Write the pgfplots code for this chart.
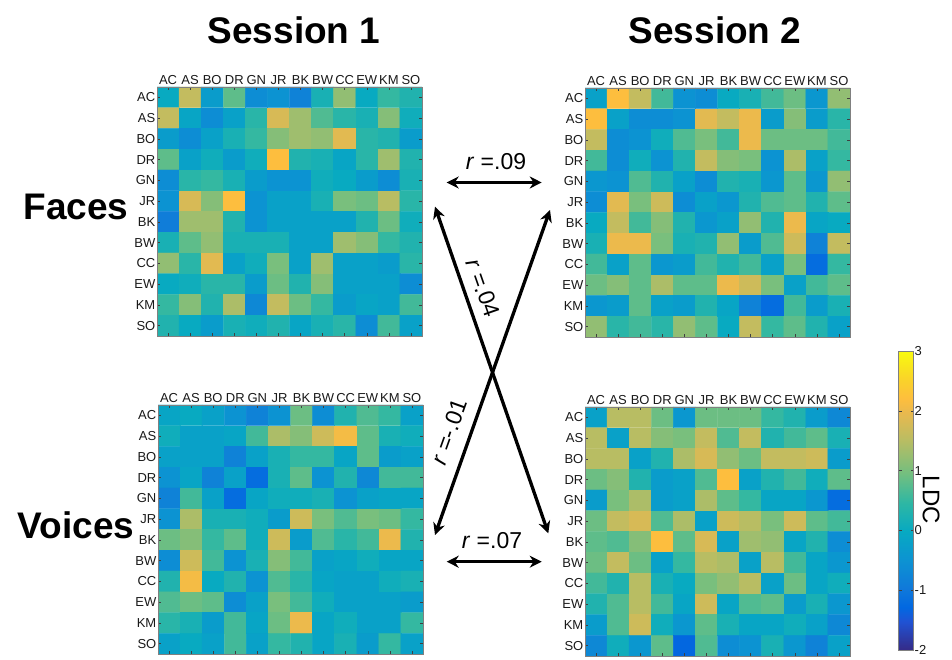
\documentclass[border=0pt]{standalone}
\usepackage{pgfplots}
\pgfplotsset{compat=1.18}
\usepackage{fontspec}
\setmainfont{Liberation Sans}
\usetikzlibrary{arrows.meta}
\pgfplotsset{colormap={parula}{
 rgb(0pt)=(0.2081,0.1663,0.5292)
 rgb(6pt)=(0.1253,0.3242,0.8303)
 rgb(9pt)=(0.0060,0.4086,0.8828)
 rgb(13pt)=(0.0629,0.4737,0.8554)
 rgb(19pt)=(0.0488,0.5772,0.8228)
 rgb(25pt)=(0.0267,0.6642,0.7607)
 rgb(31pt)=(0.1801,0.7177,0.6424)
 rgb(37pt)=(0.4420,0.7481,0.5033)
 rgb(44pt)=(0.7184,0.7411,0.3905)
 rgb(50pt)=(0.9139,0.7258,0.3063)
 rgb(53pt)=(0.9938,0.7455,0.2403)
 rgb(57pt)=(0.9789,0.8271,0.1633)
 rgb(63pt)=(0.9763,0.9831,0.0538)
}}
\pgfplotsset{rdm/.style={
 scale only axis, width=265pt, height=249pt,
 xmin=-0.5, xmax=11.5, ymin=-0.5, ymax=11.5, y dir=reverse,
 enlargelimits=false, axis on top,
 xtick={0,...,11}, ytick={0,...,11},
 xticklabels={AC,AS,BO,DR,GN,JR,BK,BW,CC,EW,KM,SO},
 yticklabels={AC,AS,BO,DR,GN,JR,BK,BW,CC,EW,KM,SO},
 xticklabel pos=right, xtick pos=both, ytick pos=both, yticklabel pos=left,
 tick align=inside, major tick length=3pt,
 tick style={black!75, line width=0.5pt},
 axis line style={black!50, line width=0.6pt},
 tick label style={font=\fontsize{13}{14}\selectfont, text=black!90},
 xticklabel style={inner sep=1pt, yshift=1pt},
 yticklabel style={inner sep=1.5pt},
 colormap name=parula, point meta min=-2, point meta max=3,
}}
\begin{document}
\begin{tikzpicture}
\useasboundingbox (0,0) rectangle (952pt,660pt);
% Session 1 Faces
\begin{axis}[rdm, at={(157pt,573pt)}, anchor=north west]
\addplot[matrix plot*, mesh/cols=12, point meta=explicit] coordinates {
(0,0)[0] (1,0)[1.6] (2,0)[-0.3] (3,0)[0.8] (4,0)[-0.6] (5,0)[-0.5] (6,0)[-0.8] (7,0)[0.2] (8,0)[1.2] (9,0)[0] (10,0)[0.5] (11,0)[0.3]
(0,1)[1.6] (1,1)[-0.1] (2,1)[-0.6] (3,1)[-0.2] (4,1)[0.4] (5,1)[1.8] (6,1)[1.3] (7,1)[0.7] (8,1)[0.4] (9,1)[0.2] (10,1)[1.1] (11,1)[0.1]
(0,2)[-0.3] (1,2)[-0.6] (2,2)[-0.2] (3,2)[0.2] (4,2)[0.5] (5,2)[1.1] (6,2)[1.3] (7,2)[1.2] (8,2)[1.9] (9,2)[0.4] (10,2)[0.3] (11,2)[-0.3]
(0,3)[0.8] (1,3)[-0.2] (2,3)[0.1] (3,3)[-0.3] (4,3)[0.1] (5,3)[2.2] (6,3)[0.3] (7,3)[0.2] (8,3)[-0.1] (9,3)[0.4] (10,3)[1.3] (11,3)[0.3]
(0,4)[-0.6] (1,4)[0.4] (2,4)[0.5] (3,4)[0.2] (4,4)[-0.3] (5,4)[-0.5] (6,4)[-0.5] (7,4)[0.1] (8,4)[0] (9,4)[-0.3] (10,4)[-0.6] (11,4)[0.2]
(0,5)[-0.5] (1,5)[1.8] (2,5)[1.1] (3,5)[2.2] (4,5)[-0.5] (5,5)[-0.2] (6,5)[-0.2] (7,5)[0.2] (8,5)[1.0] (9,5)[0.9] (10,5)[1.5] (11,5)[0.4]
(0,6)[-0.9] (1,6)[1.3] (2,6)[1.3] (3,6)[0.3] (4,6)[-0.5] (5,6)[-0.2] (6,6)[-0.2] (7,6)[-0.2] (8,6)[-0.2] (9,6)[0.3] (10,6)[0.9] (11,6)[0.1]
(0,7)[0.2] (1,7)[0.8] (2,7)[1.2] (3,7)[0.2] (4,7)[0.2] (5,7)[0.2] (6,7)[-0.2] (7,7)[-0.2] (8,7)[1.3] (9,7)[1.1] (10,7)[0.5] (11,7)[0.3]
(0,8)[1.2] (1,8)[0.4] (2,8)[1.9] (3,8)[-0.2] (4,8)[0.1] (5,8)[1.0] (6,8)[-0.2] (7,8)[1.3] (8,8)[-0.2] (9,8)[-0.2] (10,8)[-0.3] (11,8)[0.4]
(0,9)[0] (1,9)[0.1] (2,9)[0.4] (3,9)[0.4] (4,9)[-0.3] (5,9)[0.9] (6,9)[0.3] (7,9)[1.1] (8,9)[-0.2] (9,9)[-0.2] (10,9)[-0.2] (11,9)[-0.6]
(0,10)[0.5] (1,10)[1.1] (2,10)[0.3] (3,10)[1.4] (4,10)[-0.7] (5,10)[1.6] (6,10)[0.9] (7,10)[0.5] (8,10)[-0.3] (9,10)[-0.1] (10,10)[-0.2] (11,10)[0.6]
(0,11)[0.3] (1,11)[0] (2,11)[-0.3] (3,11)[0.2] (4,11)[0.1] (5,11)[0.3] (6,11)[-0.1] (7,11)[0.2] (8,11)[0.4] (9,11)[-0.6] (10,11)[0.6] (11,11)[-0.2]
};
\end{axis}
% Session 2 Faces
\begin{axis}[rdm, at={(585pt,572pt)}, anchor=north west]
\addplot[matrix plot*, mesh/cols=12, point meta=explicit] coordinates {
(0,0)[-0.2] (1,0)[2.2] (2,0)[1.6] (3,0)[0.6] (4,0)[-0.5] (5,0)[-0.6] (6,0)[0] (7,0)[0.2] (8,0)[0.6] (9,0)[0.9] (10,0)[-0.4] (11,0)[1.2]
(0,1)[2.2] (1,1)[-0.2] (2,1)[-0.6] (3,1)[-0.6] (4,1)[-0.5] (5,1)[1.9] (6,1)[1.6] (7,1)[2.0] (8,1)[-0.3] (9,1)[1.1] (10,1)[-0.3] (11,1)[0.4]
(0,2)[1.6] (1,2)[-0.6] (2,2)[-0.5] (3,2)[0.1] (4,2)[0.7] (5,2)[1.0] (6,2)[0.6] (7,2)[2.0] (8,2)[0.9] (9,2)[0.9] (10,2)[0.9] (11,2)[0.6]
(0,3)[0.6] (1,3)[-0.6] (2,3)[0.1] (3,3)[-0.5] (4,3)[0.3] (5,3)[1.6] (6,3)[1.1] (7,3)[1.0] (8,3)[-0.5] (9,3)[1.4] (10,3)[-0.2] (11,3)[0.5]
(0,4)[-0.4] (1,4)[-0.5] (2,4)[0.7] (3,4)[0.3] (4,4)[-0.2] (5,4)[-0.6] (6,4)[0.3] (7,4)[0.2] (8,4)[-0.4] (9,4)[0.8] (10,4)[-0.4] (11,4)[1.2]
(0,5)[-0.6] (1,5)[1.9] (2,5)[1.0] (3,5)[1.7] (4,5)[-0.6] (5,5)[-0.2] (6,5)[-0.4] (7,5)[0.3] (8,5)[0.7] (9,5)[0.8] (10,5)[0.3] (11,5)[0.8]
(0,6)[0] (1,6)[1.6] (2,6)[0.6] (3,6)[1.1] (4,6)[0.3] (5,6)[-0.4] (6,6)[-0.2] (7,6)[1.2] (8,6)[0.3] (9,6)[2.0] (10,6)[-0.1] (11,6)[0]
(0,7)[0.2] (1,7)[2.0] (2,7)[2.0] (3,7)[1.0] (4,7)[0.2] (5,7)[0.3] (6,7)[1.2] (7,7)[-0.3] (8,7)[0.7] (9,7)[1.7] (10,7)[-0.8] (11,7)[1.6]
(0,8)[0.6] (1,8)[-0.2] (2,8)[0.8] (3,8)[-0.4] (4,8)[-0.3] (5,8)[0.6] (6,8)[0.3] (7,8)[0.6] (8,8)[-0.2] (9,8)[1.0] (10,8)[-1.2] (11,8)[0.5]
(0,9)[0.9] (1,9)[1.1] (2,9)[0.8] (3,9)[1.4] (4,9)[0.8] (5,9)[0.8] (6,9)[2.0] (7,9)[1.7] (8,9)[1.0] (9,9)[-0.2] (10,9)[0.6] (11,9)[0.8]
(0,10)[-0.4] (1,10)[-0.3] (2,10)[0.8] (3,10)[-0.2] (4,10)[-0.3] (5,10)[0.3] (6,10)[-0.1] (7,10)[-0.8] (8,10)[-1.2] (9,10)[0.6] (10,10)[-0.3] (11,10)[0.2]
(0,11)[1.2] (1,11)[0.4] (2,11)[0.6] (3,11)[0.4] (4,11)[1.2] (5,11)[0.8] (6,11)[0] (7,11)[1.6] (8,11)[0.5] (9,11)[0.8] (10,11)[0.3] (11,11)[-0.2]
};
\end{axis}
% Session 1 Voices
\begin{axis}[rdm, at={(158pt,255pt)}, anchor=north west]
\addplot[matrix plot*, mesh/cols=12, point meta=explicit] coordinates {
(0,0)[-0.1] (1,0)[0] (2,0)[-0.2] (3,0)[-0.5] (4,0)[-0.8] (5,0)[-0.5] (6,0)[0.9] (7,0)[-0.6] (8,0)[0.3] (9,0)[0.7] (10,0)[0.5] (11,0)[-0.2]
(0,1)[0.1] (1,1)[-0.2] (2,1)[-0.2] (3,1)[-0.1] (4,1)[0.6] (5,1)[1.4] (6,1)[1.1] (7,1)[1.7] (8,1)[2.1] (9,1)[0.8] (10,1)[0.2] (11,1)[0.1]
(0,2)[-0.2] (1,2)[-0.2] (2,2)[-0.2] (3,2)[-0.8] (4,2)[-0.2] (5,2)[0.2] (6,2)[0.5] (7,2)[0.5] (8,2)[-0.1] (9,2)[0.8] (10,2)[-0.3] (11,2)[-0.2]
(0,3)[-0.5] (1,3)[-0.1] (2,3)[-0.8] (3,3)[-0.2] (4,3)[-1.2] (5,3)[0.2] (6,3)[0.8] (7,3)[-0.5] (8,3)[0.3] (9,3)[-0.7] (10,3)[0.6] (11,3)[0.6]
(0,4)[-0.8] (1,4)[0.6] (2,4)[-0.2] (3,4)[-1.2] (4,4)[-0.1] (5,4)[0.1] (6,4)[0.1] (7,4)[0.2] (8,4)[-0.5] (9,4)[-0.2] (10,4)[-0.1] (11,4)[-0.1]
(0,5)[-0.5] (1,5)[1.4] (2,5)[0.2] (3,5)[0.2] (4,5)[0.1] (5,5)[-0.3] (6,5)[1.7] (7,5)[1.0] (8,5)[0.7] (9,5)[1.0] (10,5)[0.9] (11,5)[0.5]
(0,6)[0.9] (1,6)[1.1] (2,6)[0.5] (3,6)[0.8] (4,6)[0.1] (5,6)[1.7] (6,6)[-0.3] (7,6)[0.7] (8,6)[0.4] (9,6)[0.6] (10,6)[2.0] (11,6)[0.3]
(0,7)[-0.6] (1,7)[1.7] (2,7)[0.6] (3,7)[-0.5] (4,7)[0.2] (5,7)[1.1] (6,7)[0.6] (7,7)[-0.2] (8,7)[-0.1] (9,7)[0.1] (10,7)[-0.1] (11,7)[-0.1]
(0,8)[0.3] (1,8)[2.1] (2,8)[0] (3,8)[0.3] (4,8)[-0.5] (5,8)[0.7] (6,8)[0.4] (7,8)[-0.1] (8,8)[-0.2] (9,8)[-0.2] (10,8)[0.1] (11,8)[0.2]
(0,9)[0.7] (1,9)[0.9] (2,9)[0.8] (3,9)[-0.6] (4,9)[-0.2] (5,9)[1.0] (6,9)[0.6] (7,9)[0.1] (8,9)[-0.2] (9,9)[-0.2] (10,9)[-0.2] (11,9)[-0.3]
(0,10)[0.4] (1,10)[0.2] (2,10)[-0.3] (3,10)[0.6] (4,10)[-0.1] (5,10)[0.9] (6,10)[2.0] (7,10)[-0.1] (8,10)[0.1] (9,10)[-0.2] (10,10)[-0.2] (11,10)[0.5]
(0,11)[-0.2] (1,11)[0] (2,11)[-0.2] (3,11)[0.6] (4,11)[-0.2] (5,11)[0.5] (6,11)[0.3] (7,11)[-0.1] (8,11)[0.2] (9,11)[-0.3] (10,11)[0.5] (11,11)[-0.2]
};
\end{axis}
% Session 2 Voices
\begin{axis}[rdm, at={(585pt,253pt)}, anchor=north west,
 colorbar,
 colorbar style={at={(parent axis.north east)}, anchor=north west,
   xshift=40pt, yshift=56pt, scale only axis, width=15pt, height=299pt,
   ytick={-2,-1,0,1,2,3}, yticklabel pos=right, ytick pos=both,
   tick align=inside, major tick length=3pt,
   tick style={black!75, line width=0.5pt},
   axis line style={black!50, line width=0.6pt},
   yticklabel style={font=\fontsize{13}{14}\selectfont, inner sep=1pt,
     /pgf/number format/assume math mode=true}}]
\addplot[matrix plot*, mesh/cols=12, point meta=explicit] coordinates {
(0,0)[-0.2] (1,0)[1.5] (2,0)[1.5] (3,0)[0.9] (4,0)[-0.4] (5,0)[0.9] (6,0)[0.9] (7,0)[0.9] (8,0)[0.5] (9,0)[0.3] (10,0)[-0.3] (11,0)[-0.7]
(0,1)[1.5] (1,1)[-0.2] (2,1)[1.5] (3,1)[1.1] (4,1)[1.0] (5,1)[1.6] (6,1)[0.7] (7,1)[1.6] (8,1)[0.3] (9,1)[0.6] (10,1)[0.8] (11,1)[0.2]
(0,2)[1.5] (1,2)[1.5] (2,2)[-0.2] (3,2)[0.3] (4,2)[1.4] (5,2)[1.8] (6,2)[1.2] (7,2)[0.9] (8,2)[1.6] (9,2)[1.6] (10,2)[1.7] (11,2)[-0.3]
(0,3)[0.9] (1,3)[1.1] (2,3)[0.3] (3,3)[-0.3] (4,3)[-0.2] (5,3)[0.7] (6,3)[2.2] (7,3)[-0.2] (8,3)[0.3] (9,3)[0.6] (10,3)[0.1] (11,3)[0.8]
(0,4)[-0.3] (1,4)[1.0] (2,4)[1.4] (3,4)[-0.3] (4,4)[-0.2] (5,4)[1.4] (6,4)[0.8] (7,4)[0.5] (8,4)[-0.1] (9,4)[-0.1] (10,4)[-0.4] (11,4)[-1.2]
(0,5)[0.9] (1,5)[1.6] (2,5)[1.8] (3,5)[0.7] (4,5)[1.4] (5,5)[-0.2] (6,5)[1.7] (7,5)[1.5] (8,5)[1.0] (9,5)[1.7] (10,5)[0.8] (11,5)[0.6]
(0,6)[0.8] (1,6)[0.7] (2,6)[1.1] (3,6)[2.2] (4,6)[0.8] (5,6)[1.8] (6,6)[-0.2] (7,6)[1.3] (8,6)[1.2] (9,6)[-0.1] (10,6)[0.3] (11,6)[-0.6]
(0,7)[0.9] (1,7)[1.6] (2,7)[0.9] (3,7)[-0.2] (4,7)[0.5] (5,7)[1.5] (6,7)[1.4] (7,7)[-0.2] (8,7)[1.5] (9,7)[0.6] (10,7)[-0.1] (11,7)[-0.4]
(0,8)[0.6] (1,8)[0.3] (2,8)[1.5] (3,8)[0.2] (4,8)[0] (5,8)[1.0] (6,8)[1.2] (7,8)[1.5] (8,8)[-0.2] (9,8)[0.9] (10,8)[-0.1] (11,8)[0.1]
(0,9)[0.3] (1,9)[0.7] (2,9)[1.5] (3,9)[0.6] (4,9)[-0.1] (5,9)[1.7] (6,9)[-0.1] (7,9)[0.7] (8,9)[0.8] (9,9)[-0.3] (10,9)[0.2] (11,9)[-0.4]
(0,10)[-0.3] (1,10)[0.7] (2,10)[1.7] (3,10)[0.1] (4,10)[-0.4] (5,10)[0.8] (6,10)[0.2] (7,10)[-0.1] (8,10)[-0.1] (9,10)[0.1] (10,10)[-0.2] (11,10)[-0.7]
(0,11)[-0.7] (1,11)[0.1] (2,11)[-0.4] (3,11)[0.8] (4,11)[-1.3] (5,11)[0.7] (6,11)[-0.6] (7,11)[-0.5] (8,11)[0.2] (9,11)[-0.4] (10,11)[-0.8] (11,11)[-0.2]
};
\end{axis}
% titles
\node[font=\fontsize{37}{40}\selectfont\bfseries] at (294pt,630pt) {Session 1};
\node[font=\fontsize{37}{40}\selectfont\bfseries] at (715pt,630pt) {Session 2};
\node[font=\fontsize{37}{40}\selectfont\bfseries] at (76pt,453pt) {Faces};
\node[font=\fontsize{37}{40}\selectfont\bfseries] at (76pt,135pt) {Voices};
\node[font=\fontsize{24}{26}\selectfont, rotate=-90] at (931pt,160pt) {LDC};
% arrows
\begin{scope}[line width=3.3pt, >={Stealth[length=12pt,width=12pt]}]
\draw[<->] (446.7pt,477.5pt) -- (541.7pt,477.5pt);
\draw[<->] (446.7pt,98.3pt) -- (541.7pt,98.3pt);
\draw[<->] (435pt,453.3pt) -- (548.3pt,126.7pt);
\draw[<->] (550pt,450pt) -- (435pt,125pt);
\end{scope}
\node[font=\fontsize{23}{25}\selectfont] at (496pt,498pt) {\textit{r} =.09};
\node[font=\fontsize{23}{25}\selectfont] at (492pt,119pt) {\textit{r} =.07};
\node[font=\fontsize{23}{25}\selectfont, rotate=-70.7] at (483pt,372pt) {\textit{r} =.04};
\node[font=\fontsize{23}{25}\selectfont, rotate=70.3] at (449pt,228pt) {\textit{r} =-.01};
\end{tikzpicture}
\end{document}
